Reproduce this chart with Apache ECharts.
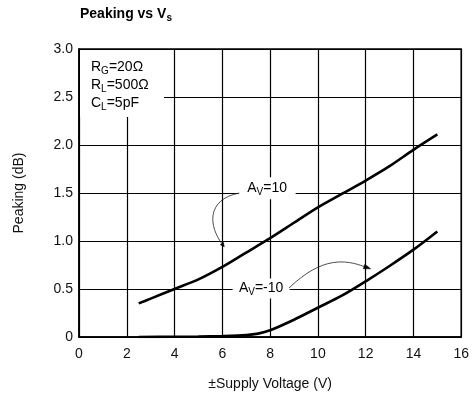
<!DOCTYPE html>
<html>
<head>
<meta charset="utf-8">
<script src="https://cdn.jsdelivr.net/npm/echarts@6/dist/echarts.min.js"></script>
<style>
html,body{margin:0;padding:0;background:#fff;}
#c{width:472px;height:401px;}
</style>
</head>
<body>
<div id="c"></div>
<script>
// ---- data ----
const supplyA10 = [2.5, 3, 4, 5, 6, 7, 8, 9, 10, 11, 12, 13, 14, 15];
const peakA10   = [0.35, 0.40, 0.50, 0.60, 0.73, 0.88, 1.03, 1.19, 1.35, 1.49, 1.63, 1.78, 1.95, 2.11];
const supplyAm10 = [2.5, 4, 5, 6, 7, 7.5, 8, 9, 10, 11, 12, 13, 14, 15];
const peakAm10   = [0, 0.002, 0.005, 0.01, 0.02, 0.035, 0.07, 0.18, 0.305, 0.43, 0.58, 0.74, 0.91, 1.10];
const xTicks = [0, 2, 4, 6, 8, 10, 12, 14, 16];
const yTicks = [0, 0.5, 1.0, 1.5, 2.0, 2.5, 3.0];
const seriesNames = ['AV=10', 'AV=-10'];
// annotation anchors in data coordinates
const labelA10 = [7.875, 1.55];
const labelAm10 = [7.625, 0.505];
const arrowA10 = [[6.71, 1.5], [5.3, 1.43], [5.45, 1.15], [6.08, 0.94]];
const arrowAm10 = [[8.79, 0.51], [10.2, 0.85], [11.2, 0.8], [12.21, 0.71]];

const FONT = 'Liberation Sans, Arial, sans-serif';
const chart = echarts.init(document.getElementById('c'), null, {renderer: 'canvas'});

const option = {
  backgroundColor: '#fff',
  animation: false,
  title: {
    text: '{b|Peaking vs V}{s|s}',
    left: 80, top: 5, padding: 0,
    textStyle: {
      rich: {
        b: {fontFamily: FONT, fontWeight: 'bold', fontSize: 14, color: '#000', lineHeight: 18},
        s: {fontFamily: FONT, fontWeight: 'bold', fontSize: 10, color: '#000', lineHeight: 14, verticalAlign: 'bottom'}
      }
    }
  },
  grid: {left: 79, right: 9, top: 49, bottom: 64, show: true, borderColor: '#000', borderWidth: 1.5, containLabel: false},
  xAxis: {
    type: 'value', min: 0, max: 16, interval: 2,
    name: '±Supply Voltage (V)', nameLocation: 'middle', nameGap: 40,
    nameTextStyle: {fontFamily: FONT, fontSize: 14, color: '#111'},
    axisLine: {show: true, lineStyle: {color: '#000', width: 1.5}},
    axisTick: {show: false},
    axisLabel: {fontFamily: FONT, fontSize: 14, color: '#111', margin: 10,
      formatter: v => xTicks.includes(v) ? String(v) : ''},
    splitLine: {show: true, lineStyle: {color: '#000', width: 1.2}}
  },
  yAxis: {
    type: 'value', min: 0, max: 3, interval: 0.5,
    name: 'Peaking (dB)', nameLocation: 'middle', nameGap: 53, nameRotate: 90,
    nameTextStyle: {fontFamily: FONT, fontSize: 14, color: '#111'},
    axisLine: {show: true, lineStyle: {color: '#000', width: 1.5}},
    axisTick: {show: false},
    axisLabel: {fontFamily: FONT, fontSize: 14, color: '#111', margin: 6,
      formatter: v => v === 0 ? '0' : (yTicks.includes(v) ? v.toFixed(1) : '')},
    splitLine: {show: true, lineStyle: {color: '#000', width: 1.2}}
  },
  series: [
    {name: seriesNames[0], type: 'line', data: supplyA10.map((x, i) => [x, peakA10[i]]),
     smooth: 0.3, showSymbol: false, lineStyle: {color: '#000', width: 2.6}, z: 5},
    {name: seriesNames[1], type: 'line', data: supplyAm10.map((x, i) => [x, peakAm10[i]]),
     smooth: 0.3, showSymbol: false, lineStyle: {color: '#000', width: 2.6}, z: 5}
  ]
};
chart.setOption(option);

function px(p) { return chart.convertToPixel({gridIndex: 0}, p); }
const richSub = {
  a: {fontFamily: FONT, fontSize: 14, color: '#111', lineHeight: 18},
  s: {fontFamily: FONT, fontSize: 10, color: '#111', lineHeight: 15, verticalAlign: 'bottom'}
};
function arrow(pts, headLen, headW) {
  const p = pts.map(px);
  const [s, c1, c2, e] = p;
  const dx = e[0] - c2[0], dy = e[1] - c2[1];
  const L = Math.hypot(dx, dy) || 1;
  const ux = dx / L, uy = dy / L;
  const bx = e[0] - ux * headLen, by = e[1] - uy * headLen;
  return [
    {type: 'bezierCurve', z: 120,
     shape: {x1: s[0], y1: s[1], cpx1: c1[0], cpy1: c1[1], cpx2: c2[0], cpy2: c2[1], x2: bx, y2: by},
     style: {stroke: '#222', lineWidth: 0.8, fill: null}},
    {type: 'polygon', z: 121,
     shape: {points: [[e[0], e[1]], [bx - uy * headW, by + ux * headW], [bx + uy * headW, by - ux * headW]]},
     style: {fill: '#000', stroke: '#000', lineWidth: 0.5}}
  ];
}
function labelBox(anchor, text, w, h) {
  const c = px(anchor);
  return [
    {type: 'rect', z: 110, shape: {x: c[0] - w / 2, y: c[1] - h / 2, width: w, height: h},
     style: {fill: '#fff'}},
    {type: 'text', z: 111, x: c[0], y: c[1],
     style: {text: text, rich: richSub, align: 'center', verticalAlign: 'middle'}}
  ];
}
const g0 = px([0, 3]);
const graphics = [
  {type: 'rect', z: 110, shape: {x: g0[0] + 1, y: g0[1] + 1, width: 84, height: 67}, style: {fill: '#fff'}},
  {type: 'text', z: 111, x: g0[0] + 12, y: g0[1] + 9,
   style: {text: '{a|R}{s|G}{a|=20Ω}\n{a|R}{s|L}{a|=500Ω}\n{a|C}{s|L}{a|=5pF}', rich: richSub, align: 'left', verticalAlign: 'top'}}
]
  .concat(labelBox(labelA10, '{a|A}{s|V}{a|=10}', 57, 22))
  .concat(labelBox(labelAm10, '{a|A}{s|V}{a|=-10}', 57, 20))
  .concat(arrow(arrowA10, 4, 2))
  .concat(arrow(arrowAm10, 7, 2.5));
chart.setOption({graphic: graphics});
</script>
</body>
</html>
